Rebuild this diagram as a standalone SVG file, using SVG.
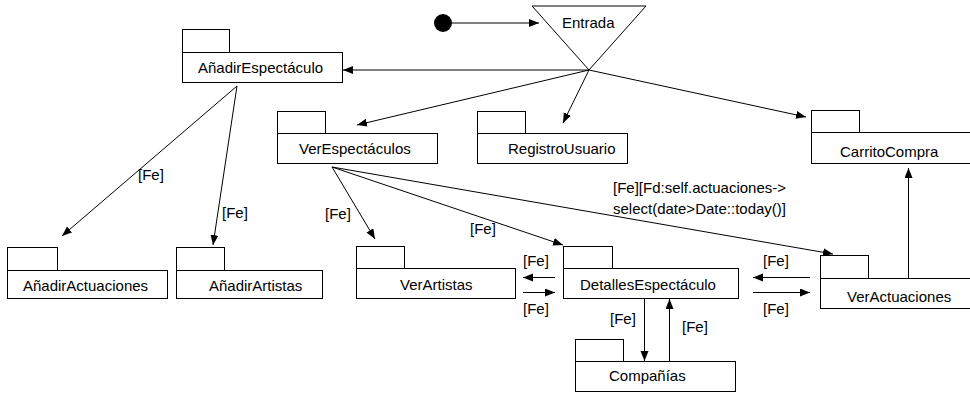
<svg xmlns="http://www.w3.org/2000/svg" width="970" height="394" viewBox="0 0 970 394">
  <style>
    .box { fill: #fff; stroke: #000; stroke-width: 1; }
    .lbl { font-family: "Liberation Sans", Arial, sans-serif; font-size: 15px; fill: #000; }
    .edge { fill: none; stroke: #000; stroke-width: 1; marker-end: url(#arrow); }
  </style>
  <defs>
    <marker id="arrow" markerUnits="userSpaceOnUse" markerWidth="11" markerHeight="9" refX="10" refY="4" orient="auto">
      <path d="M0,0 L10,4 L0,8 z" fill="#000"/>
    </marker>
  </defs>
  <rect width="970" height="394" fill="#fff"/>

  <!-- start state -->
  <g id="start">
    <circle cx="443" cy="23" r="9" fill="#000"/>
  </g>

  <!-- entry point -->
  <g id="entrada">
    <polygon points="532,6 646,6 589,70" fill="#fff" stroke="#000" stroke-width="1"/>
    <text class="lbl" x="562" y="28">Entrada</text>
  </g>

  <!-- packages: tab + body -->
  <g id="anadirEspectaculo">
    <rect class="box" x="182.5" y="29.5" width="47" height="23"/>
    <rect class="box" x="182.5" y="52.5" width="160" height="30"/>
    <text class="lbl" x="198" y="73">AñadirEspectáculo</text>
  </g>

  <g id="verEspectaculos">
    <rect class="box" x="277.5" y="111.5" width="48" height="22"/>
    <rect class="box" x="277.5" y="133.5" width="160" height="30"/>
    <text class="lbl" x="299" y="154">VerEspectáculos</text>
  </g>

  <g id="registroUsuario">
    <rect class="box" x="477.5" y="111.5" width="48" height="22"/>
    <rect class="box" x="477.5" y="133.5" width="150" height="30"/>
    <text class="lbl" x="508" y="154">RegistroUsuario</text>
  </g>

  <g id="carritoCompra">
    <rect class="box" x="811.5" y="110.5" width="48" height="22"/>
    <rect class="box" x="811.5" y="132.5" width="170" height="31"/>
    <text class="lbl" x="840" y="156.5">CarritoCompra</text>
  </g>

  <g id="anadirActuaciones">
    <rect class="box" x="7.5" y="247.5" width="50" height="23"/>
    <rect class="box" x="7.5" y="270.5" width="160" height="28"/>
    <text class="lbl" x="23" y="291">AñadirActuaciones</text>
  </g>

  <g id="anadirArtistas">
    <rect class="box" x="176.5" y="247.5" width="48" height="23"/>
    <rect class="box" x="176.5" y="270.5" width="146" height="28"/>
    <text class="lbl" x="209" y="291">AñadirArtistas</text>
  </g>

  <g id="verArtistas">
    <rect class="box" x="356.5" y="246.5" width="48" height="22"/>
    <rect class="box" x="356.5" y="268.5" width="159" height="30"/>
    <text class="lbl" x="400" y="290">VerArtistas</text>
  </g>

  <g id="detallesEspectaculo">
    <rect class="box" x="563.5" y="246.5" width="49" height="22"/>
    <rect class="box" x="563.5" y="268.5" width="175" height="30"/>
    <text class="lbl" x="580" y="290">DetallesEspectáculo</text>
  </g>

  <g id="verActuaciones">
    <rect class="box" x="820.5" y="255.5" width="48" height="23"/>
    <rect class="box" x="820.5" y="278.5" width="160" height="30"/>
    <text class="lbl" x="847" y="301.5">VerActuaciones</text>
  </g>

  <g id="companias">
    <rect class="box" x="575.5" y="339.5" width="48" height="22"/>
    <rect class="box" x="575.5" y="361.5" width="160" height="30"/>
    <text class="lbl" x="609" y="381">Compañías</text>
  </g>

  <!-- transitions -->
  <g id="connectors">
    <line class="edge" x1="452" y1="23" x2="539" y2="23"/>
    <line class="edge" x1="589" y1="70" x2="343" y2="70"/>
    <line class="edge" x1="589" y1="70" x2="357" y2="125"/>
    <line class="edge" x1="589" y1="70" x2="563" y2="123"/>
    <line class="edge" x1="589" y1="70" x2="806" y2="117"/>

    <line class="edge" x1="237" y1="86" x2="62" y2="236"/>
    <line class="edge" x1="237" y1="86" x2="213" y2="245"/>

    <line class="edge" x1="332" y1="167" x2="375" y2="239"/>
    <line class="edge" x1="332" y1="167" x2="563" y2="245"/>
    <line class="edge" x1="332" y1="167" x2="833" y2="254"/>

    <line class="edge" x1="555" y1="277.5" x2="523" y2="277.5"/>
    <line class="edge" x1="523" y1="292.5" x2="555" y2="292.5"/>

    <line class="edge" x1="810" y1="277.5" x2="753" y2="277.5"/>
    <line class="edge" x1="753" y1="292.5" x2="810" y2="292.5"/>

    <line class="edge" x1="644.5" y1="299" x2="644.5" y2="361"/>
    <line class="edge" x1="669.5" y1="361" x2="669.5" y2="299"/>

    <line class="edge" x1="908.5" y1="278" x2="908.5" y2="168"/>

    <text class="lbl" x="138" y="180">[Fe]</text>
    <text class="lbl" x="222" y="218">[Fe]</text>
    <text class="lbl" x="325" y="219">[Fe]</text>
    <text class="lbl" x="470" y="234">[Fe]</text>
    <text class="lbl" x="613" y="193">[Fe][Fd:self.actuaciones-&gt;</text>
    <text class="lbl" x="613" y="214">select(date&gt;Date::today()]</text>
    <text class="lbl" x="523" y="266">[Fe]</text>
    <text class="lbl" x="523" y="314">[Fe]</text>
    <text class="lbl" x="763" y="266">[Fe]</text>
    <text class="lbl" x="763" y="314">[Fe]</text>
    <text class="lbl" x="610" y="324">[Fe]</text>
    <text class="lbl" x="682" y="332">[Fe]</text>
  </g>
</svg>
